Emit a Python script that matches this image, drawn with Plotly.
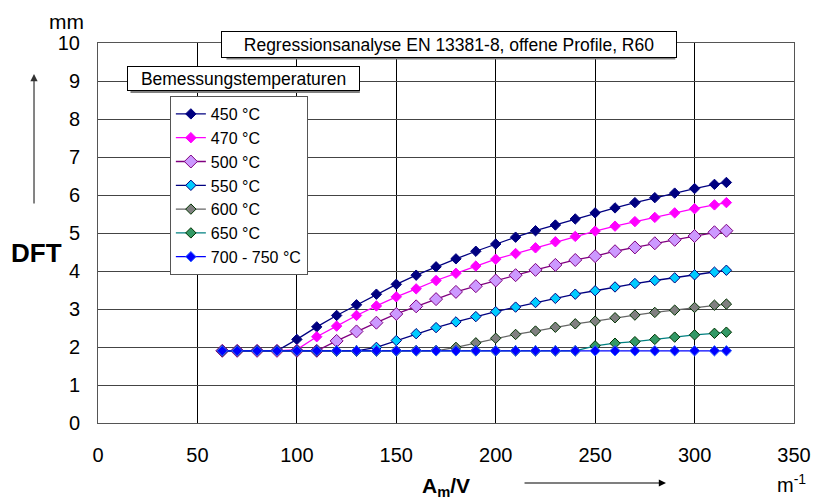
import plotly.graph_objects as go

# ---------------- data ----------------
x_amv = [62.5, 70, 80, 90, 100, 110, 120, 130, 140, 150, 160, 170, 180, 190, 200,
         210, 220, 230, 240, 250, 260, 270, 280, 290, 300, 310, 316]

dft_450 = [1.9, 1.9, 1.9, 1.9, 2.20, 2.53, 2.83, 3.11, 3.39, 3.65, 3.89, 4.11, 4.32, 4.52,
           4.71, 4.89, 5.06, 5.21, 5.37, 5.53, 5.66, 5.80, 5.93, 6.05, 6.17, 6.28, 6.33]
dft_470 = [1.9, 1.9, 1.9, 1.9, 1.93, 2.27, 2.55, 2.83, 3.08, 3.32, 3.53, 3.75, 3.94, 4.13,
           4.31, 4.46, 4.61, 4.77, 4.91, 5.05, 5.18, 5.30, 5.41, 5.53, 5.64, 5.74, 5.80]
dft_500 = [1.9, 1.9, 1.9, 1.9, 1.9, 1.9, 2.16, 2.41, 2.64, 2.87, 3.07, 3.26, 3.45, 3.60,
           3.75, 3.89, 4.03, 4.16, 4.29, 4.39, 4.52, 4.62, 4.73, 4.82, 4.92, 5.02, 5.06]
dft_550 = [1.9, 1.9, 1.9, 1.9, 1.9, 1.9, 1.9, 1.9, 1.99, 2.17, 2.35, 2.51, 2.66, 2.80,
           2.93, 3.05, 3.17, 3.28, 3.39, 3.48, 3.58, 3.67, 3.75, 3.82, 3.90, 3.97, 4.02]
dft_600 = [1.9, 1.9, 1.9, 1.9, 1.9, 1.9, 1.9, 1.9, 1.9, 1.9, 1.9, 1.9, 1.99, 2.11,
           2.23, 2.33, 2.42, 2.52, 2.61, 2.68, 2.77, 2.84, 2.91, 2.97, 3.04, 3.10, 3.13]
dft_650 = [1.9, 1.9, 1.9, 1.9, 1.9, 1.9, 1.9, 1.9, 1.9, 1.9, 1.9, 1.9, 1.9, 1.9,
           1.9, 1.9, 1.9, 1.9, 1.9, 2.03, 2.10, 2.14, 2.20, 2.26, 2.32, 2.36, 2.39]
dft_700 = [1.9, 1.9, 1.9, 1.9, 1.9, 1.9, 1.9, 1.9, 1.9, 1.9, 1.9, 1.9, 1.9, 1.9,
           1.9, 1.9, 1.9, 1.9, 1.9, 1.9, 1.9, 1.9, 1.9, 1.9, 1.9, 1.9, 1.9]

series_names = ["450 °C", "470 °C", "500 °C", "550 °C", "600 °C", "650 °C", "700 - 750 °C"]
series_values = [dft_450, dft_470, dft_500, dft_550, dft_600, dft_650, dft_700]

x_ticks = [0, 50, 100, 150, 200, 250, 300, 350]
y_ticks = [0, 1, 2, 3, 4, 5, 6, 7, 8, 9, 10]

title_text = "Regressionsanalyse EN 13381-8, offene Profile, R60"
legend_title_text = "Bemessungstemperaturen"

# ---------------- styles ----------------
styles = [
    dict(fill="#000080", edge="#000080", line="#000080", size=8),
    dict(fill="#FF00FF", edge="#FF00FF", line="#FF00FF", size=8),
    dict(fill="#CC99FF", edge="#800080", line="#800080", size=10),
    dict(fill="#00CCFF", edge="#000080", line="#000080", size=8),
    dict(fill="#808080", edge="#003300", line="#666666", size=8),
    dict(fill="#339966", edge="#003300", line="#008080", size=8),
    dict(fill="#0000FF", edge="#3366FF", line="#0000FF", size=8),
]

FONT = "Liberation Sans, Arial, sans-serif"

fig = go.Figure()
for name, vals, st in zip(series_names, series_values, styles):
    fig.add_trace(go.Scatter(
        x=x_amv, y=vals, name=name, mode="lines+markers",
        line=dict(color=st["line"], width=1.3),
        marker=dict(symbol="diamond", size=st["size"], color=st["fill"],
                    line=dict(color=st["edge"], width=1)),
    ))

# plot area in pixels: left 98, right 805, top 43, bottom 423
L, R, T, B = 98, 805, 43, 423
W, H = R - L, B - T


def px(xp):
    return (xp - L) / W


def py(yp):
    return (B - yp) / H


annotations = []
shapes = []


def box(text, cx, cy, w, h, size):
    # shadow
    shapes.append(dict(type="rect", xref="paper", yref="paper",
                       x0=px(cx - w / 2 + 2), x1=px(cx + w / 2 + 2),
                       y0=py(cy + h / 2 + 2), y1=py(cy - h / 2 + 2),
                       line=dict(width=0), fillcolor="#7f7f7f", layer="above"))
    annotations.append(dict(text=text, xref="paper", yref="paper", x=px(cx), y=py(cy),
                            xanchor="center", yanchor="middle", showarrow=False,
                            width=w - 2, height=h - 2, borderpad=0,
                            bordercolor="#000000", borderwidth=1, bgcolor="#FFFFFF",
                            font=dict(family=FONT, size=size, color="#000000")))


box(title_text, 454.5, 44, 456, 27, 17.5)
box(legend_title_text, 245.5, 78.5, 233, 25, 17.5)

annotations += [
    dict(text="mm", xref="paper", yref="paper", x=px(66), y=py(21), showarrow=False,
         xanchor="center", yanchor="middle", font=dict(family=FONT, size=21, color="#000")),
    dict(text="<b>DFT</b>", xref="paper", yref="paper", x=px(36), y=py(253), showarrow=False,
         xanchor="center", yanchor="middle", font=dict(family=FONT, size=26, color="#000")),
    dict(text="<b>A<sub>m</sub>/V</b>", xref="paper", yref="paper", x=px(451), y=py(487),
         showarrow=False, xanchor="center", yanchor="middle",
         font=dict(family=FONT, size=21, color="#000")),
    dict(text="m<sup>-1</sup>", xref="paper", yref="paper", x=px(802), y=py(483),
         showarrow=False, xanchor="center", yanchor="middle",
         font=dict(family=FONT, size=20, color="#000")),
    # vertical arrow
    dict(text="", xref="paper", yref="paper", x=px(33), y=py(74), ax=0, ay=131,
         showarrow=True, arrowhead=2, arrowsize=1.2, arrowwidth=1.2, arrowcolor="#333333"),
    # horizontal arrow
    dict(text="", xref="paper", yref="paper", x=px(675), y=py(483), ax=-143, ay=0,
         showarrow=True, arrowhead=2, arrowsize=1.2, arrowwidth=1.2, arrowcolor="#000000"),
]

fig.update_layout(
    width=823, height=501,
    margin=dict(l=L, r=823 - R, t=T, b=501 - B, pad=0),
    paper_bgcolor="#FFFFFF", plot_bgcolor="#FFFFFF",
    font=dict(family=FONT, size=20, color="#000000"),
    showlegend=True,
    legend=dict(x=px(171), y=py(96), xanchor="left", yanchor="top",
                bgcolor="#FFFFFF", bordercolor="#555555", borderwidth=1,
                font=dict(family=FONT, size=16, color="#000000"),
                traceorder="normal", itemwidth=30),
    annotations=annotations,
    shapes=shapes,
    xaxis=dict(range=[0, 350], tickvals=x_ticks, ticktext=[str(v) for v in x_ticks],
               showgrid=True, gridcolor="#000000", gridwidth=1,
               showline=True, linecolor="#555555", linewidth=1, mirror=True,
               zeroline=False, ticks="", ticklabelstandoff=14,
               tickfont=dict(family=FONT, size=20)),
    yaxis=dict(range=[0, 10], tickvals=y_ticks, ticktext=[str(v) for v in y_ticks],
               showgrid=True, gridcolor="#444444", gridwidth=1,
               showline=True, linecolor="#555555", linewidth=1, mirror=True,
               zeroline=False, ticks="", ticklabelstandoff=13,
               tickfont=dict(family=FONT, size=20)),
)

fig.write_html("out.html", config={"displayModeBar": False},
               post_script="document.body.style.margin='0';document.body.style.padding='0';")
